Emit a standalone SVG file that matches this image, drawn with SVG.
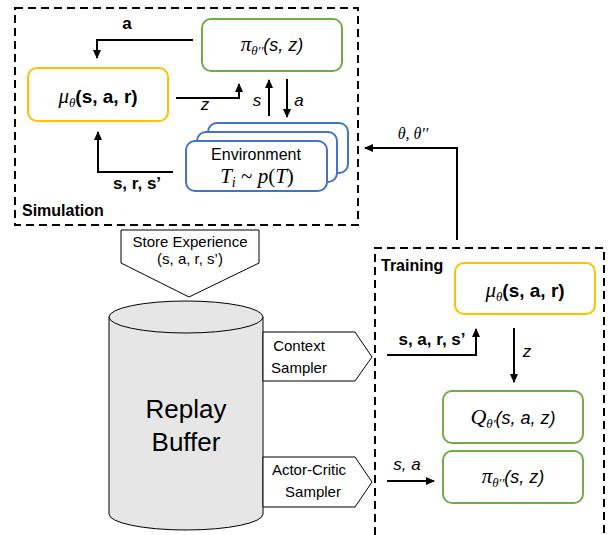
<svg xmlns="http://www.w3.org/2000/svg" width="608" height="535" viewBox="0 0 608 535">
<defs>
<marker id="ah" markerWidth="9" markerHeight="8" refX="8" refY="4" orient="auto" markerUnits="userSpaceOnUse">
<path d="M0,0 L9,4 L0,8 Z" fill="#000"/>
</marker>
<style>
.dash{fill:none;stroke:#000;stroke-width:2;stroke-dasharray:8,5}
.box{fill:#fff;stroke-width:2}
.g{stroke:#70ad47}.y{stroke:#ffc000}.b{stroke:#4472c4}
.c{fill:none;stroke:#000;stroke-width:2;marker-end:url(#ah)}
.sans{font-family:"Liberation Sans",Arial,sans-serif;fill:#000}
.ser{font-family:"Liberation Serif","Times New Roman",serif;font-style:italic;fill:#000}
.thin{fill:#fff;stroke:#000;stroke-width:1}
</style>
</defs>
<rect fill="#fff" width="608" height="535"/>

<g id="simulation">
<rect class="dash" x="15" y="8" width="343" height="217"/>
<text class="sans" x="22" y="216" font-size="16" font-weight="bold">Simulation</text>
</g>

<g id="training">
<path class="dash" d="M375,535 V248 H604 V535"/>
<text class="sans" x="381" y="271" font-size="16" font-weight="bold">Training</text>
</g>

<g id="policy-sim">
<rect class="box g" x="202" y="19" width="140" height="52" rx="9"/>
<text x="272" y="51" text-anchor="middle" font-size="18"><tspan class="ser" font-size="21">π</tspan><tspan class="ser" font-size="13" dy="4">θ′′</tspan><tspan class="sans" font-style="italic" dy="-4">(s, z)</tspan></text>
</g>

<g id="encoder-sim">
<rect class="box y" x="28" y="68" width="140" height="53" rx="9"/>
<text x="98" y="103" text-anchor="middle" font-size="19"><tspan class="ser" font-size="21">μ</tspan><tspan class="ser" font-size="13" dy="4">θ</tspan><tspan class="sans" font-weight="bold" dy="-4">(s, a, r)</tspan></text>
</g>

<g id="environment">
<rect class="box b" x="208" y="123" width="140" height="50" rx="9"/>
<rect class="box b" x="197" y="132" width="140" height="50" rx="9"/>
<rect class="box b" x="186" y="141" width="141" height="50" rx="9"/>
<text class="sans" x="256" y="160" text-anchor="middle" font-size="16">Environment</text>
<text x="257" y="183" text-anchor="middle" class="ser" font-size="21">T<tspan font-size="14" dy="4">i</tspan><tspan dy="-4" font-style="normal"> ~ </tspan>p<tspan font-style="normal">(</tspan>T<tspan font-style="normal">)</tspan></text>
</g>

<g id="encoder-train">
<rect class="box y" x="455" y="263" width="140" height="51" rx="9"/>
<text x="525" y="297" text-anchor="middle" font-size="19"><tspan class="ser" font-size="21">μ</tspan><tspan class="ser" font-size="13" dy="4">θ</tspan><tspan class="sans" font-weight="bold" dy="-4">(s, a, r)</tspan></text>
</g>

<g id="critic">
<rect class="box g" x="443" y="391" width="140" height="52" rx="9"/>
<text x="513" y="424" text-anchor="middle" font-size="18"><tspan class="ser" font-size="22">Q</tspan><tspan class="ser" font-size="13" dy="4">θ′</tspan><tspan class="sans" font-style="italic" dy="-4">(s, a, z)</tspan></text>
</g>

<g id="policy-train">
<rect class="box g" x="443" y="451" width="140" height="52" rx="9"/>
<text x="513" y="483" text-anchor="middle" font-size="18"><tspan class="ser" font-size="21">π</tspan><tspan class="ser" font-size="13" dy="4">θ′′</tspan><tspan class="sans" font-style="italic" dy="-4">(s, z)</tspan></text>
</g>

<g id="store-experience">
<path class="thin" d="M121,230 H259 V263 L189,297 L121,263 Z"/>
<text class="sans" x="190" y="247" text-anchor="middle" font-size="15">Store Experience</text>
<text class="sans" x="190" y="264" text-anchor="middle" font-size="15">(s, a, r, s’)</text>
</g>

<g id="replay-buffer">
<path d="M109,317 V514 A77,16 0 0 0 263,514 V317" fill="#e6e6e6" stroke="#000" stroke-width="1"/>
<ellipse cx="186" cy="317" rx="77" ry="16" fill="#e6e6e6" stroke="#000" stroke-width="1"/>
<text class="sans" x="186" y="418" text-anchor="middle" font-size="26">Replay</text>
<text class="sans" x="186" y="451" text-anchor="middle" font-size="26">Buffer</text>
</g>

<g id="context-sampler">
<path class="thin" d="M263,332 H355 L372,357 L355,381 H263 Z"/>
<text class="sans" x="299" y="351" text-anchor="middle" font-size="15">Context</text>
<text class="sans" x="299" y="373" text-anchor="middle" font-size="15">Sampler</text>
</g>

<g id="ac-sampler">
<path class="thin" d="M263,457 H355 L372,482 L355,507 H263 Z"/>
<text class="sans" x="309" y="475" text-anchor="middle" font-size="15">Actor-Critic</text>
<text class="sans" x="313" y="497" text-anchor="middle" font-size="15">Sampler</text>
</g>

<g id="connectors">
<path class="c" d="M193,40 H97 V58"/>
<path class="c" d="M176,98 H239 V84"/>
<path class="c" d="M269,116 V80"/>
<path class="c" d="M287,79 V117"/>
<path class="c" d="M173,172 H98 V132"/>
<path class="c" d="M457,240 V148 H365"/>
<path class="c" d="M387,355 H476 V329"/>
<path class="c" d="M514,328 V382"/>
<path class="c" d="M387,481 H434"/>
<text class="sans" x="127" y="29" text-anchor="middle" font-size="17" font-weight="bold">a</text>
<text class="sans" x="205" y="110" text-anchor="middle" font-size="17" font-style="italic">z</text>
<text class="sans" x="257" y="106" text-anchor="middle" font-size="17" font-style="italic">s</text>
<text class="sans" x="299" y="106" text-anchor="middle" font-size="17" font-style="italic">a</text>
<text class="sans" x="137" y="189" text-anchor="middle" font-size="17" font-weight="bold">s, r, s’</text>
<text class="ser" x="413" y="139" text-anchor="middle" font-size="16">θ, θ′′</text>
<text class="sans" x="432" y="345" text-anchor="middle" font-size="17" font-weight="bold">s, a, r, s’</text>
<text class="sans" x="527" y="357" text-anchor="middle" font-size="17" font-style="italic">z</text>
<text class="sans" x="407" y="470" text-anchor="middle" font-size="17" font-style="italic">s, a</text>
</g>
</svg>
